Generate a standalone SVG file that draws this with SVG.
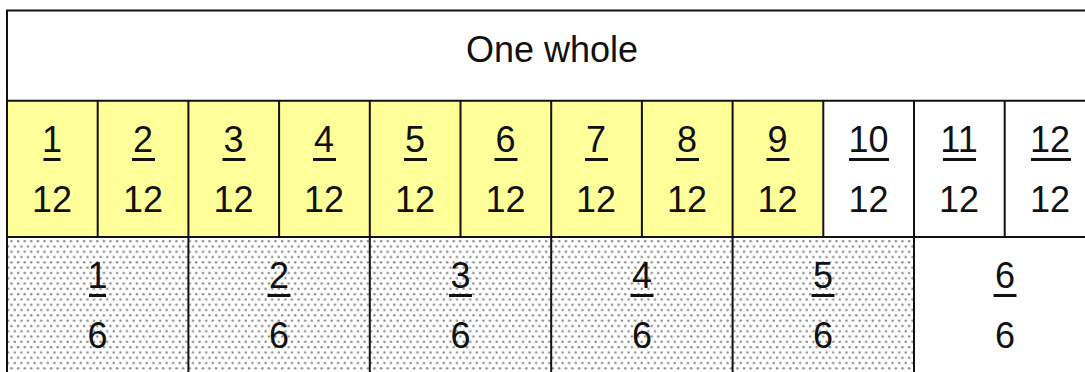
<svg xmlns="http://www.w3.org/2000/svg" width="1085" height="372" viewBox="0 0 1085 372">
<defs>
<pattern id="dots" width="6.6" height="10.6" patternUnits="userSpaceOnUse">
<rect width="6.6" height="10.6" fill="#fff"/>
<circle cx="1.6" cy="2.6" r="1.25" fill="#8a8a8a"/>
<circle cx="4.9" cy="7.9" r="1.25" fill="#8a8a8a"/>
</pattern>
</defs>
<style>
text{font-family:"Comic Sans MS","Liberation Sans","DejaVu Sans",sans-serif;font-size:36px;fill:#111;text-anchor:middle}
.ul{fill:#111}
.ln{stroke:#111;stroke-width:2;fill:none}
.y{fill:#ffff99}
.w{fill:#fff}
.d{fill:url(#dots)}
</style>
<rect x="0" y="0" width="1085" height="372" fill="#fff"/>
<g id="whole">
<rect class="w" x="7" y="10.5" width="1090" height="90"/>
<text x="552" y="62">One whole</text>
</g>
<g id="twelfths">
<rect class="y" x="7" y="100.7" width="816" height="136.3"/>
<rect class="w" x="823" y="100.7" width="262" height="136.3"/>
<g id="t1"><text x="52" y="152">1</text><rect class="ul" x="43.5" y="158" width="17" height="3"/><text x="52" y="212">12</text></g>
<g id="t2"><text x="143" y="152">2</text><rect class="ul" x="132" y="158" width="23" height="3"/><text x="143" y="212">12</text></g>
<g id="t3"><text x="233.5" y="152">3</text><rect class="ul" x="222.5" y="158" width="23" height="3"/><text x="233.5" y="212">12</text></g>
<g id="t4"><text x="324" y="152">4</text><rect class="ul" x="313" y="158" width="23" height="3"/><text x="324" y="212">12</text></g>
<g id="t5"><text x="415" y="152">5</text><rect class="ul" x="404" y="158" width="23" height="3"/><text x="415" y="212">12</text></g>
<g id="t6"><text x="505.5" y="152">6</text><rect class="ul" x="494.5" y="158" width="23" height="3"/><text x="505.5" y="212">12</text></g>
<g id="t7"><text x="596" y="152">7</text><rect class="ul" x="585" y="158" width="23" height="3"/><text x="596" y="212">12</text></g>
<g id="t8"><text x="687" y="152">8</text><rect class="ul" x="676" y="158" width="23" height="3"/><text x="687" y="212">12</text></g>
<g id="t9"><text x="777.5" y="152">9</text><rect class="ul" x="766.5" y="158" width="23" height="3"/><text x="777.5" y="212">12</text></g>
<g id="t10"><text x="868.5" y="152">10</text><rect class="ul" x="849" y="158" width="40" height="3"/><text x="868.5" y="212">12</text></g>
<g id="t11"><text x="959" y="152">11</text><rect class="ul" x="943" y="158" width="33" height="3"/><text x="959" y="212">12</text></g>
<g id="t12"><text x="1050" y="152">12</text><rect class="ul" x="1031" y="158" width="40" height="3"/><text x="1050" y="212">12</text></g>
</g>
<g id="sixths">
<rect class="d" x="7" y="237" width="907" height="135"/>
<rect class="w" x="914" y="237" width="171" height="135"/>
<g id="s1"><text x="97.5" y="288">1</text><rect class="ul" x="89" y="294" width="17" height="3"/><text x="97.5" y="348">6</text></g>
<g id="s2"><text x="279" y="288">2</text><rect class="ul" x="267.5" y="294" width="23" height="3"/><text x="279" y="348">6</text></g>
<g id="s3"><text x="460.5" y="288">3</text><rect class="ul" x="449" y="294" width="23" height="3"/><text x="460.5" y="348">6</text></g>
<g id="s4"><text x="642" y="288">4</text><rect class="ul" x="630.5" y="294" width="23" height="3"/><text x="642" y="348">6</text></g>
<g id="s5"><text x="823" y="288">5</text><rect class="ul" x="811.5" y="294" width="23" height="3"/><text x="823" y="348">6</text></g>
<g id="s6"><text x="1005" y="288">6</text><rect class="ul" x="993.5" y="294" width="23" height="3"/><text x="1005" y="348">6</text></g>
</g>
<g id="connectors" class="ln">
<line x1="6" y1="10.5" x2="1085" y2="10.5"/>
<line x1="7" y1="10" x2="7" y2="372"/>
<line x1="7" y1="100.7" x2="1085" y2="100.7"/>
<line x1="7" y1="237" x2="1085" y2="237"/>
<path d="M97.7 100.7V237M188.4 100.7V372M279.1 100.7V237M369.8 100.7V372M460.5 100.7V237M551.2 100.7V372M641.9 100.7V237M732.6 100.7V372M823.3 100.7V237M914 100.7V372M1004.7 100.7V237"/>
</g>
</svg>
